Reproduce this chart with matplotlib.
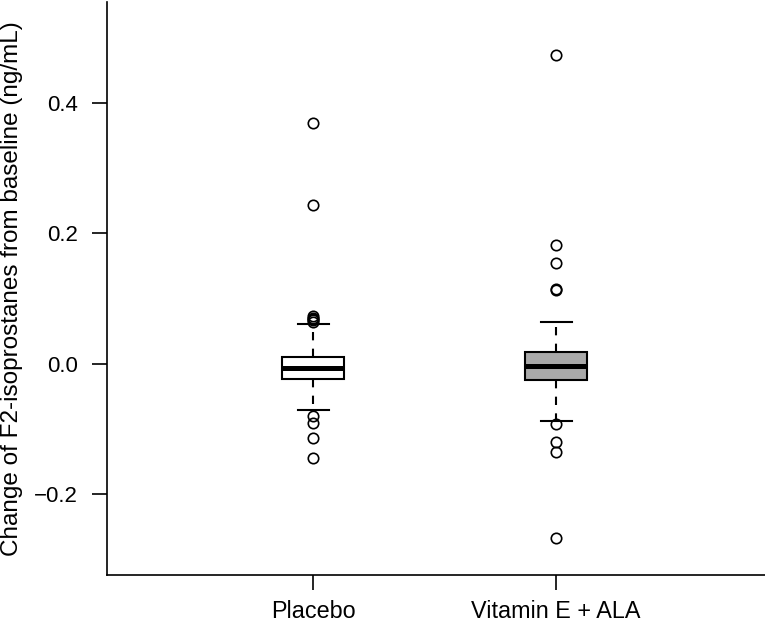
import matplotlib
matplotlib.use("Agg")
import matplotlib.pyplot as plt

plt.rcParams['font.family'] = ['Liberation Sans', 'DejaVu Sans']

groups = ["Placebo", "Vitamin E + ALA"]
medians = [-0.006, -0.003]
q1 = [-0.023, -0.025]
q3 = [0.011, 0.018]
whisker_low = [-0.070, -0.087]
whisker_high = [0.061, 0.064]
outliers_placebo = [0.369, 0.244, 0.065, 0.067, 0.069, 0.071, 0.073,
                    -0.080, -0.090, -0.113, -0.144]
outliers_vit = [0.473, 0.182, 0.155, 0.115, 0.114,
                -0.092, -0.120, -0.135, -0.267]
fills = ["white", "#a9a9a9"]
ytick_vals = [-0.2, 0.0, 0.2, 0.4]
ytick_labels = ["\u22120.2", "0.0", "0.2", "0.4"]

stats = []
fliers = [outliers_placebo, outliers_vit]
for i, g in enumerate(groups):
    stats.append(dict(label=g, med=medians[i], q1=q1[i], q3=q3[i],
                      whislo=whisker_low[i], whishi=whisker_high[i],
                      fliers=fliers[i]))

fig = plt.figure(figsize=(7.65, 6.27), dpi=100)
ax = fig.add_axes([0.140, 0.083, 0.86, 0.914])

bp = ax.bxp(stats, positions=[1, 2], widths=0.255, patch_artist=True,
            boxprops=dict(linewidth=1.5, edgecolor="black"),
            medianprops=dict(color="black", linewidth=3.6,
                             solid_capstyle="butt"),
            whiskerprops=dict(color="black", linewidth=1.5,
                              linestyle=(0, (4, 4))),
            capprops=dict(color="black", linewidth=1.5),
            capwidths=0.128,
            flierprops=dict(marker="o", markersize=7.5,
                            markerfacecolor="none",
                            markeredgecolor="black",
                            markeredgewidth=1.2))
for patch, c in zip(bp["boxes"], fills):
    patch.set_facecolor(c)

ax.set_xlim(0.152, 2.86)
ax.set_ylim(-0.3234, 0.555)
ax.set_yticks(ytick_vals)
ax.set_yticklabels(ytick_labels)
ax.set_xticks([1, 2])
ax.set_xticklabels(groups)
ax.tick_params(axis="both", direction="out", length=11, width=1.2,
               labelsize=16, pad=10)
ax.tick_params(axis="x", labelsize=16.8, pad=7)
ax.spines["top"].set_visible(False)
ax.spines["right"].set_visible(False)
ax.spines["left"].set_linewidth(1.2)
ax.spines["bottom"].set_linewidth(1.2)
ax.set_ylabel("Change of F2-isoprostanes from baseline (ng/mL)",
              fontsize=17.5, labelpad=8)

fig.savefig("out.png", dpi=100)
